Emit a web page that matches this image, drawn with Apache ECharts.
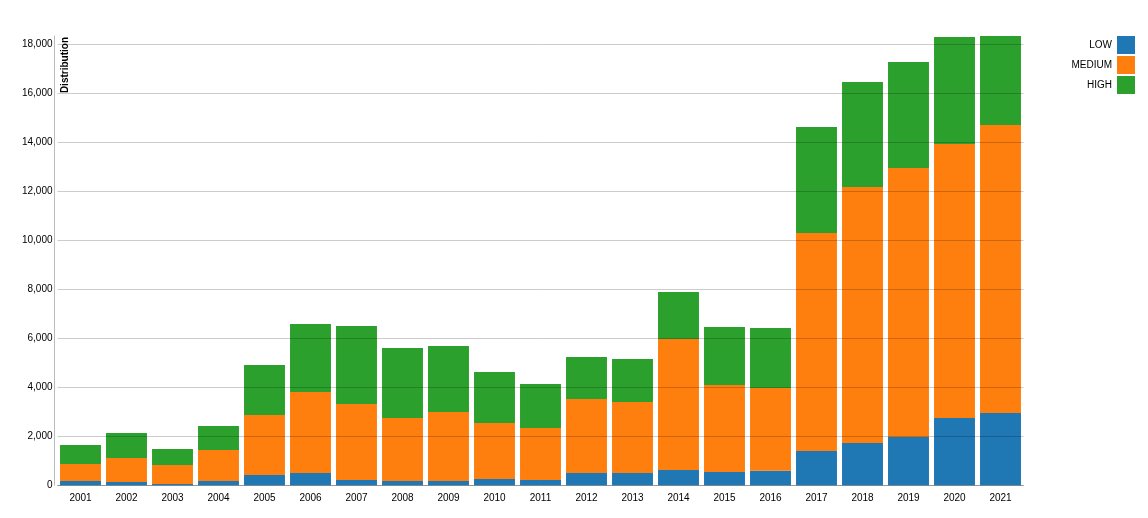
<!DOCTYPE html>
<html>
<head>
<meta charset="utf-8">
<title>Distribution</title>
<script src="https://cdn.jsdelivr.net/npm/echarts@6/dist/echarts.min.js"></script>
<style>
  html, body { margin: 0; padding: 0; background: #fff; }
  #chart { width: 1148px; height: 518px; }
</style>
</head>
<body>
<div id="chart"></div>
<script>
// 数据
const years = ['2001', '2002', '2003', '2004', '2005', '2006', '2007', '2008', '2009', '2010', '2011',
  '2012', '2013', '2014', '2015', '2016', '2017', '2018', '2019', '2020', '2021'];
const low = [175, 135, 55, 175, 425, 502, 216, 175, 175, 257, 216,
  502, 502, 624, 543, 590, 1400, 1727, 1971, 2747, 2951];
const medium = [694, 979, 774, 1266, 2445, 3306, 3102, 2572, 2817, 2286, 2123,
  3020, 2898, 5347, 3551, 3381, 8898, 10449, 10980, 11184, 11755];
const high = [776, 1021, 653, 979, 2040, 2776, 3184, 2857, 2694, 2081, 1796,
  1715, 1755, 1919, 2367, 2449, 4326, 4285, 4327, 4367, 3633];

const COLORS = { low: '#1f77b4', medium: '#ff7f0e', high: '#2ca02c' };
const FONT = '"Liberation Sans", Arial, sans-serif';

// y 轴上限 = 最高堆叠值
const totals = years.map((y, i) => low[i] + medium[i] + high[i]);
const yMax = Math.max(...totals);

const chart = echarts.init(document.getElementById('chart'), null, { renderer: 'canvas' });

chart.setOption({
  animation: false,
  textStyle: { fontFamily: FONT },
  grid: { left: 57.5, right: 124.5, top: 36, bottom: 32.7 },
  legend: {
    orient: 'vertical',
    right: 13,
    top: 36,
    padding: 0,
    align: 'right',
    itemWidth: 18,
    itemHeight: 18,
    itemGap: 2,
    icon: 'rect',
    selectedMode: false,
    textStyle: { fontSize: 10, color: '#000', fontFamily: FONT },
    data: ['LOW', 'MEDIUM', 'HIGH']
  },
  xAxis: {
    type: 'category',
    data: years,
    axisLine: { lineStyle: { color: '#bbb' } },
    axisTick: { alignWithLabel: true, length: 6, lineStyle: { color: '#bbb' } },
    axisLabel: { color: '#000', fontSize: 10, margin: 8, fontFamily: FONT }
  },
  yAxis: {
    type: 'value',
    min: 0,
    max: yMax,
    interval: 2000,
    offset: 3,
    z: 10,
    axisLine: { show: true, lineStyle: { color: '#bbb' } },
    axisTick: { show: false },
    axisLabel: {
      color: '#000', fontSize: 10, margin: 2, fontFamily: FONT,
      showMaxLabel: false,
      formatter: v => v.toLocaleString('en-US')
    },
    splitLine: { showMaxLine: false, lineStyle: { color: 'rgba(0,0,0,0.2)', width: 1 } }
  },
  graphic: [{
    type: 'text',
    x: 60,
    y: 37,
    rotation: Math.PI / 2,
    style: {
      text: 'Distribution',
      align: 'right',
      verticalAlign: 'top',
      font: 'bold 10px ' + FONT,
      fill: '#000'
    }
  }],
  series: [
    { name: 'LOW', type: 'bar', stack: 'total', barCategoryGap: '11%', data: low, itemStyle: { color: COLORS.low } },
    { name: 'MEDIUM', type: 'bar', stack: 'total', barCategoryGap: '11%', data: medium, itemStyle: { color: COLORS.medium } },
    { name: 'HIGH', type: 'bar', stack: 'total', barCategoryGap: '11%', data: high, itemStyle: { color: COLORS.high } }
  ]
});
</script>
</body>
</html>
